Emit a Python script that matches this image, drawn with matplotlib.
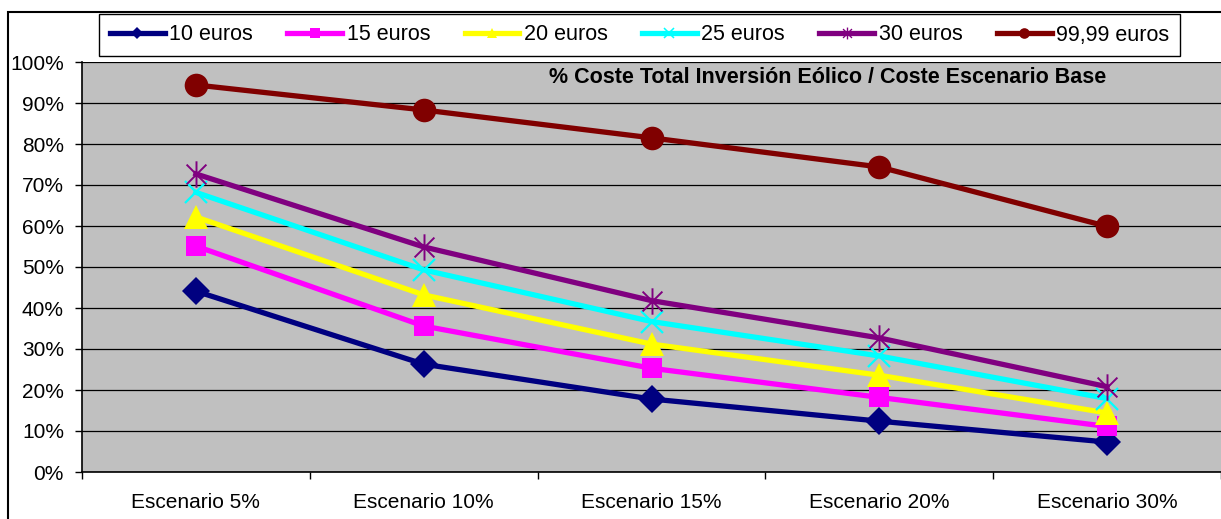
import numpy as np
import matplotlib.pyplot as plt
from matplotlib.lines import Line2D
from matplotlib.patches import Rectangle
from matplotlib.path import Path

plt.rcParams["font.family"] = ["Liberation Sans", "DejaVu Sans"]

scenarios = ["Escenario 5%", "Escenario 10%", "Escenario 15%", "Escenario 20%", "Escenario 30%"]
series_names = ["10 euros", "15 euros", "20 euros", "25 euros", "30 euros", "99,99 euros"]

eur_10 = [44.1, 26.3, 17.8, 12.4, 7.3]
eur_15 = [55.1, 35.6, 25.3, 18.2, 11.1]
eur_20 = [62.2, 43.2, 31.2, 23.6, 14.4]
eur_25 = [68.2, 49.3, 36.7, 28.3, 17.9]
eur_30 = [72.7, 54.9, 41.8, 32.7, 20.8]
eur_9999 = [94.4, 88.3, 81.5, 74.4, 59.9]

# Excel-style star: vertical bar plus an x
star = Path(
    [(0, -1), (0, 1), (-0.75, -0.75), (0.75, 0.75), (-0.75, 0.75), (0.75, -0.75)],
    [Path.MOVETO, Path.LINETO, Path.MOVETO, Path.LINETO, Path.MOVETO, Path.LINETO],
)

styles = [
    dict(color="#000080", marker="D", ms=14, mew=0),
    dict(color="#FF00FF", marker="s", ms=15, mew=0),
    dict(color="#FFFF00", marker="^", ms=17, mew=0),
    dict(color="#00FFFF", marker="x", ms=16, mew=1.6),
    dict(color="#800080", marker=star, ms=19, mew=1.4),
    dict(color="#800000", marker="o", ms=17, mew=0),
]
values = [eur_10, eur_15, eur_20, eur_25, eur_30, eur_9999]

fig = plt.figure(figsize=(12.21, 5.19), dpi=100)
ax = fig.add_axes([82 / 1221, 47 / 519, 1139 / 1221, 410 / 519])
ax.set_facecolor("#C0C0C0")

x = np.arange(len(scenarios)) + 0.5
handles = []
for name, vals, st in zip(series_names, values, styles):
    ax.plot(x, vals, color=st["color"], lw=3.8, marker=st["marker"], ms=st["ms"],
            mew=st["mew"], mec=st["color"], mfc=st["color"], zorder=3)
    handles.append(Line2D([], [], color=st["color"], lw=3.8, marker=st["marker"],
                          ms=st["ms"] * 0.45, mew=st["mew"] * 0.7,
                          mec=st["color"], mfc=st["color"], label=name))

ax.set_xlim(0, len(scenarios))
ax.set_ylim(0, 100)
ax.set_yticks(np.arange(0, 101, 10))
ax.set_yticklabels([f"{v}%" for v in range(0, 101, 10)], fontsize=15)
ax.yaxis.grid(True, color="black", lw=0.9)
ax.set_axisbelow(True)

ax.set_xticks(np.arange(0, len(scenarios) + 1))
ax.set_xticklabels([])
ax.set_xticks(x, minor=True)
ax.set_xticklabels(scenarios, minor=True, fontsize=15)
ax.tick_params(axis="x", which="minor", length=0, pad=15)
ax.tick_params(axis="both", which="major", direction="out", length=5, width=1, color="black")
ax.tick_params(axis="y", pad=8)

for side in ["top", "right"]:
    ax.spines[side].set_visible(False)
for side in ["left", "bottom"]:
    ax.spines[side].set_color("black")
    ax.spines[side].set_linewidth(1.2)

ax.text(0.655, 0.963, "% Coste Total Inversión Eólico / Coste Escenario Base",
        transform=ax.transAxes, ha="center", va="center", fontsize=15.5,
        fontweight="bold")

# outer chart frame
fig.patches.append(Rectangle((8 / 1221, -0.05), 1.1, 1 - 12 / 519 + 0.05,
                             transform=fig.transFigure, fill=False,
                             edgecolor="black", lw=1.5, zorder=0))

leg = fig.legend(handles=handles, loc="center", ncol=6,
                 bbox_to_anchor=(639.5 / 1221, 1 - 35 / 519),
                 fontsize=15.5, handlelength=2.55, handletextpad=0.2,
                 columnspacing=1.6, frameon=True, fancybox=False,
                 borderpad=0.5)
leg.get_frame().set_edgecolor("black")
leg.get_frame().set_linewidth(1.0)
leg.get_frame().set_alpha(1)

fig.savefig("out.png", dpi=100)
